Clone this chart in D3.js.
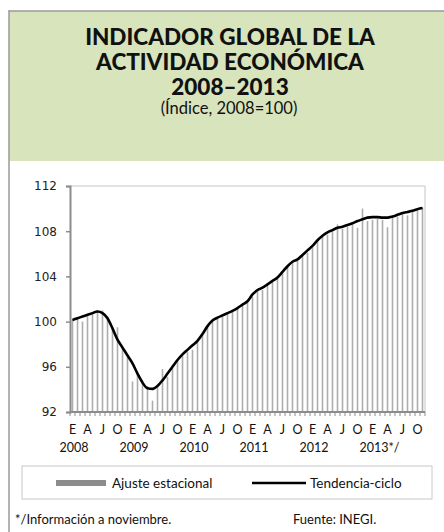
<!DOCTYPE html>
<html>
<head>
<meta charset="utf-8">
<script src="https://cdn.jsdelivr.net/npm/d3@7"></script>
<style>
  body { margin: 0; background: #fff; }
  svg { display: block; }
</style>
</head>
<body>
<div id="chart"></div>
<script>
// Monthly index, Jan 2008 .. Nov 2013
const years = ["2008", "2009", "2010", "2011", "2012", "2013*/"];
const monthLetters = ["E", "A", "J", "O"];
const yTicks = [92, 96, 100, 104, 108, 112];

// Ajuste estacional (bars)
const ajuste = [
  100.2, 100.4, 100.0, 100.6, 100.8, 101.0, 101.0, 100.5, 99.3, 99.5, 97.8, 96.9,
  94.7, 95.5, 94.8, 94.3, 93.0, 94.2, 95.8, 95.1, 95.9, 96.5, 97.0, 97.3,
  97.5, 98.2, 98.8, 99.6, 100.0, 100.3, 100.5, 100.7, 100.9, 101.1, 101.4, 101.7,
  102.2, 102.7, 102.8, 103.2, 103.5, 103.8, 104.3, 104.9, 105.2, 105.4, 105.8, 106.1,
  106.6, 107.1, 107.5, 107.7, 108.0, 108.6, 108.2, 108.4, 108.6, 108.3, 110.0, 108.9,
  109.0, 109.1, 109.0, 108.35, 109.2, 109.3, 109.5, 109.4, 109.7, 109.8, 110.1
];

// Tendencia-ciclo (line)
const tendencia = [
  100.15, 100.3, 100.45, 100.6, 100.75, 100.9, 100.75, 100.3, 99.4, 98.4, 97.7, 97.0,
  96.3, 95.4, 94.6, 94.1, 94.05, 94.3, 94.8, 95.4, 96.0, 96.6, 97.1, 97.5,
  97.9, 98.3, 98.9, 99.6, 100.1, 100.35, 100.55, 100.75, 100.95, 101.2, 101.5, 101.8,
  102.4, 102.8, 103.0, 103.3, 103.6, 103.9, 104.4, 104.9, 105.3, 105.5, 105.9, 106.3,
  106.7, 107.2, 107.6, 107.9, 108.1, 108.3, 108.4, 108.55, 108.7, 108.9, 109.05, 109.2,
  109.25, 109.25, 109.2, 109.2, 109.3, 109.45, 109.6, 109.7, 109.8, 109.95, 110.05
];

const W = 444, H = 532;
const plot = { left: 70, right: 425, top: 186, bottom: 412 };
const font = "Lato, 'Open Sans', sans-serif";

const svg = d3.select("#chart").append("svg")
  .attr("width", W)
  .attr("height", H);

// header band and frame
svg.append("rect")
  .attr("x", 9).attr("y", 11)
  .attr("width", W - 9).attr("height", 150)
  .attr("fill", "#d8e4bc");
svg.append("line")
  .attr("x1", 9).attr("x2", W).attr("y1", 11).attr("y2", 11)
  .attr("stroke", "#9a9a9a").attr("stroke-width", 1.5);
svg.append("line")
  .attr("x1", 9).attr("x2", 9).attr("y1", 10).attr("y2", H)
  .attr("stroke", "#9a9a9a").attr("stroke-width", 1.5);

// titles
const title = svg.append("g")
  .attr("font-family", font)
  .attr("text-anchor", "middle")
  .attr("fill", "#111");
[["INDICADOR GLOBAL DE LA", 45], ["ACTIVIDAD ECONÓMICA", 70], ["2008–2013", 95]].forEach(([t, y]) => {
  title.append("text")
    .attr("x", 230).attr("y", y)
    .attr("font-size", 22.5).attr("font-weight", 900)
    .text(t);
});
title.append("text")
  .attr("x", 229).attr("y", 114)
  .attr("font-size", 16.5)
  .text("(Índice, 2008=100)");

// scales
const months = d3.range(ajuste.length);
const x = d3.scaleBand()
  .domain(months)
  .range([plot.left, plot.right]);
const y = d3.scaleLinear()
  .domain([92, 112])
  .range([plot.bottom, plot.top]);

// plot area border (top, right)
svg.append("path")
  .attr("d", `M${plot.left},${plot.top}H${plot.right}V${plot.bottom}`)
  .attr("fill", "none")
  .attr("stroke", "#c4c4c4")
  .attr("stroke-width", 1);

// bars
const barW = 1.6;
svg.append("g")
  .selectAll("rect")
  .data(ajuste)
  .join("rect")
  .attr("x", (d, i) => x(i) + x.bandwidth() / 2 - barW / 2)
  .attr("width", barW)
  .attr("y", d => y(d))
  .attr("height", d => y(92) - y(d))
  .attr("fill", "#adadad");

// trend line
svg.append("path")
  .datum(tendencia)
  .attr("fill", "none")
  .attr("stroke", "#000")
  .attr("stroke-width", 2.6)
  .attr("stroke-linejoin", "round")
  .attr("d", d3.line()
    .x((d, i) => x(i) + x.bandwidth() / 2)
    .y(d => y(d))
    .curve(d3.curveMonotoneX));

// y axis
const yAxis = svg.append("g")
  .attr("transform", `translate(${plot.left},0)`)
  .call(d3.axisLeft(y).tickValues(yTicks).tickSize(4).tickPadding(9));
yAxis.select(".domain").attr("stroke", "#8c8c8c").attr("stroke-width", 2);
yAxis.selectAll(".tick line").attr("stroke", "#8c8c8c").attr("stroke-width", 1.5);
yAxis.selectAll("text")
  .attr("font-family", "'DejaVu Sans', sans-serif")
  .attr("font-size", 12)
  .attr("fill", "#222");

// x axis: month ticks between categories
const xg = svg.append("g");
xg.append("line")
  .attr("x1", plot.left).attr("x2", plot.right)
  .attr("y1", plot.bottom).attr("y2", plot.bottom)
  .attr("stroke", "#8c8c8c").attr("stroke-width", 2);
xg.selectAll("line.tk")
  .data(months.concat([ajuste.length]))
  .join("line")
  .attr("class", "tk")
  .attr("x1", i => (i < ajuste.length ? x(i) : plot.right))
  .attr("x2", i => (i < ajuste.length ? x(i) : plot.right))
  .attr("y1", plot.bottom).attr("y2", plot.bottom + 4)
  .attr("stroke", "#8c8c8c").attr("stroke-width", 1);

// month letters every quarter
const quarterMonths = months.filter(i => i % 3 === 0);
xg.selectAll("text.m")
  .data(quarterMonths)
  .join("text")
  .attr("class", "m")
  .attr("x", i => x(i) + x.bandwidth() / 2)
  .attr("y", 434)
  .attr("text-anchor", "middle")
  .attr("font-family", font)
  .attr("font-size", 12.5)
  .attr("fill", "#111")
  .text(i => monthLetters[(i % 12) / 3]);

// year labels
xg.selectAll("text.yr")
  .data(years)
  .join("text")
  .attr("class", "yr")
  .attr("x", (d, k) => x(k * 12) + x.bandwidth() / 2 - 13)
  .attr("y", 452)
  .attr("font-family", font)
  .attr("font-size", 12.5)
  .attr("fill", "#111")
  .text(d => d);

// legend
const lg = svg.append("g").attr("font-family", font).attr("font-size", 13.5).attr("fill", "#111");
lg.append("rect")
  .attr("x", 22).attr("y", 466).attr("width", 410).attr("height", 33)
  .attr("fill", "none").attr("stroke", "#c8c8c8").attr("stroke-width", 1);
lg.append("rect")
  .attr("x", 56).attr("y", 480).attr("width", 50).attr("height", 6)
  .attr("fill", "#8c8c8c");
lg.append("text").attr("x", 112).attr("y", 487.5).text("Ajuste estacional");
lg.append("line")
  .attr("x1", 252).attr("x2", 306).attr("y1", 483).attr("y2", 483)
  .attr("stroke", "#000").attr("stroke-width", 2.4);
lg.append("text").attr("x", 310).attr("y", 487.5).text("Tendencia-ciclo");

// footer notes
const ft = svg.append("g").attr("font-family", font).attr("font-size", 13).attr("fill", "#111");
ft.append("text").attr("x", 15).attr("y", 524).text("*/Información a noviembre.");
ft.append("text").attr("x", 293).attr("y", 524).text("Fuente: INEGI.");
</script>
</body>
</html>
